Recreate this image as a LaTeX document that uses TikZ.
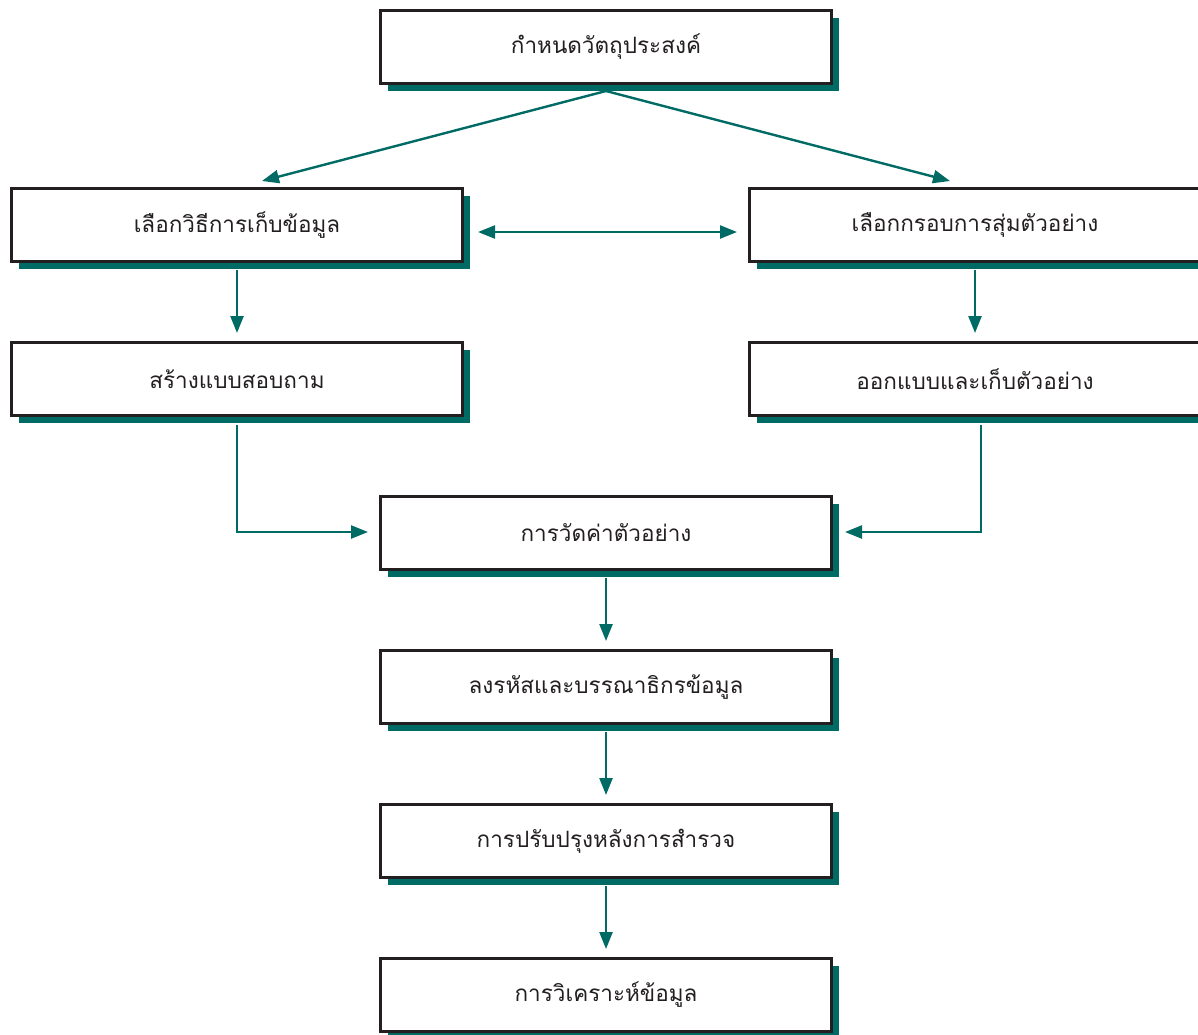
\documentclass[tikz,border=0pt]{standalone}
\usepackage{fontspec}
\newfontfamily\thaifont[Script=Thai]{Loma}
\usetikzlibrary{arrows.meta,shadows}
\definecolor{tealc}{RGB}{0,106,100}
\definecolor{ink}{RGB}{35,31,32}
\tikzset{
  box/.style={draw=ink, line width=3pt, fill=white, minimum width=451pt, minimum height=73pt,
    inner sep=0pt, font=\thaifont\fontsize{22.5}{26}\selectfont, text=ink,
    drop shadow={shadow xshift=7pt, shadow yshift=-7pt, fill=tealc, opacity=1}},
  conn/.style={draw=tealc, line width=2.4pt, -{Triangle[length=17pt,width=13pt]}},
  conn2/.style={draw=tealc, line width=2.4pt, {Triangle[length=17pt,width=13pt]}-{Triangle[length=17pt,width=13pt]}}
}
\begin{document}
\begin{tikzpicture}[x=1pt,y=-1pt]
\useasboundingbox (0,0) rectangle (1198,1034);
\clip (0,0) rectangle (1198,1034);
\node[box] (A) at (606,47) {กำหนดวัตถุประสงค์};
\node[box] (B) at (237,225) {เลือกวิธีการเก็บข้อมูล};
\node[box] (C) at (975,225) {เลือกกรอบการสุ่มตัวอย่าง};
\node[box] (D) at (237,379) {สร้างแบบสอบถาม};
\node[box] (E) at (975,379) {ออกแบบและเก็บตัวอย่าง};
\node[box] (F) at (606,533) {การวัดค่าตัวอย่าง};
\node[box] (G) at (606,687) {ลงรหัสและบรรณาธิกรข้อมูล};
\node[box] (H) at (606,841) {การปรับปรุงหลังการสำรวจ};
\node[box] (I) at (606,995) {การวิเคราะห์ข้อมูล};
\coordinate (a0) at (606,91);
\coordinate (bt) at (262,181);
\coordinate (ct) at (950,181);
\coordinate (bl) at (478,232);
\coordinate (cr) at (737,232);
\coordinate (d0) at (237,425);
\coordinate (dc) at (237,532);
\coordinate (fl) at (368,532);
\coordinate (e0) at (981,425);
\coordinate (ec) at (981,532);
\coordinate (fr) at (845,532);
\draw[conn] (a0) -- (bt);
\draw[conn] (a0) -- (ct);
\draw[conn2] (bl) -- (cr);
\draw[conn] ([yshift=-7pt]B.south) -- ([yshift=8pt]D.north);
\draw[conn] ([yshift=-7pt]C.south) -- ([yshift=8pt]E.north);
\draw[conn] (d0) -- (dc) -- (fl);
\draw[conn] (e0) -- (ec) -- (fr);
\draw[conn] ([yshift=-7pt]F.south) -- ([yshift=8pt]G.north);
\draw[conn] ([yshift=-7pt]G.south) -- ([yshift=8pt]H.north);
\draw[conn] ([yshift=-7pt]H.south) -- ([yshift=8pt]I.north);
\end{tikzpicture}
\end{document}
